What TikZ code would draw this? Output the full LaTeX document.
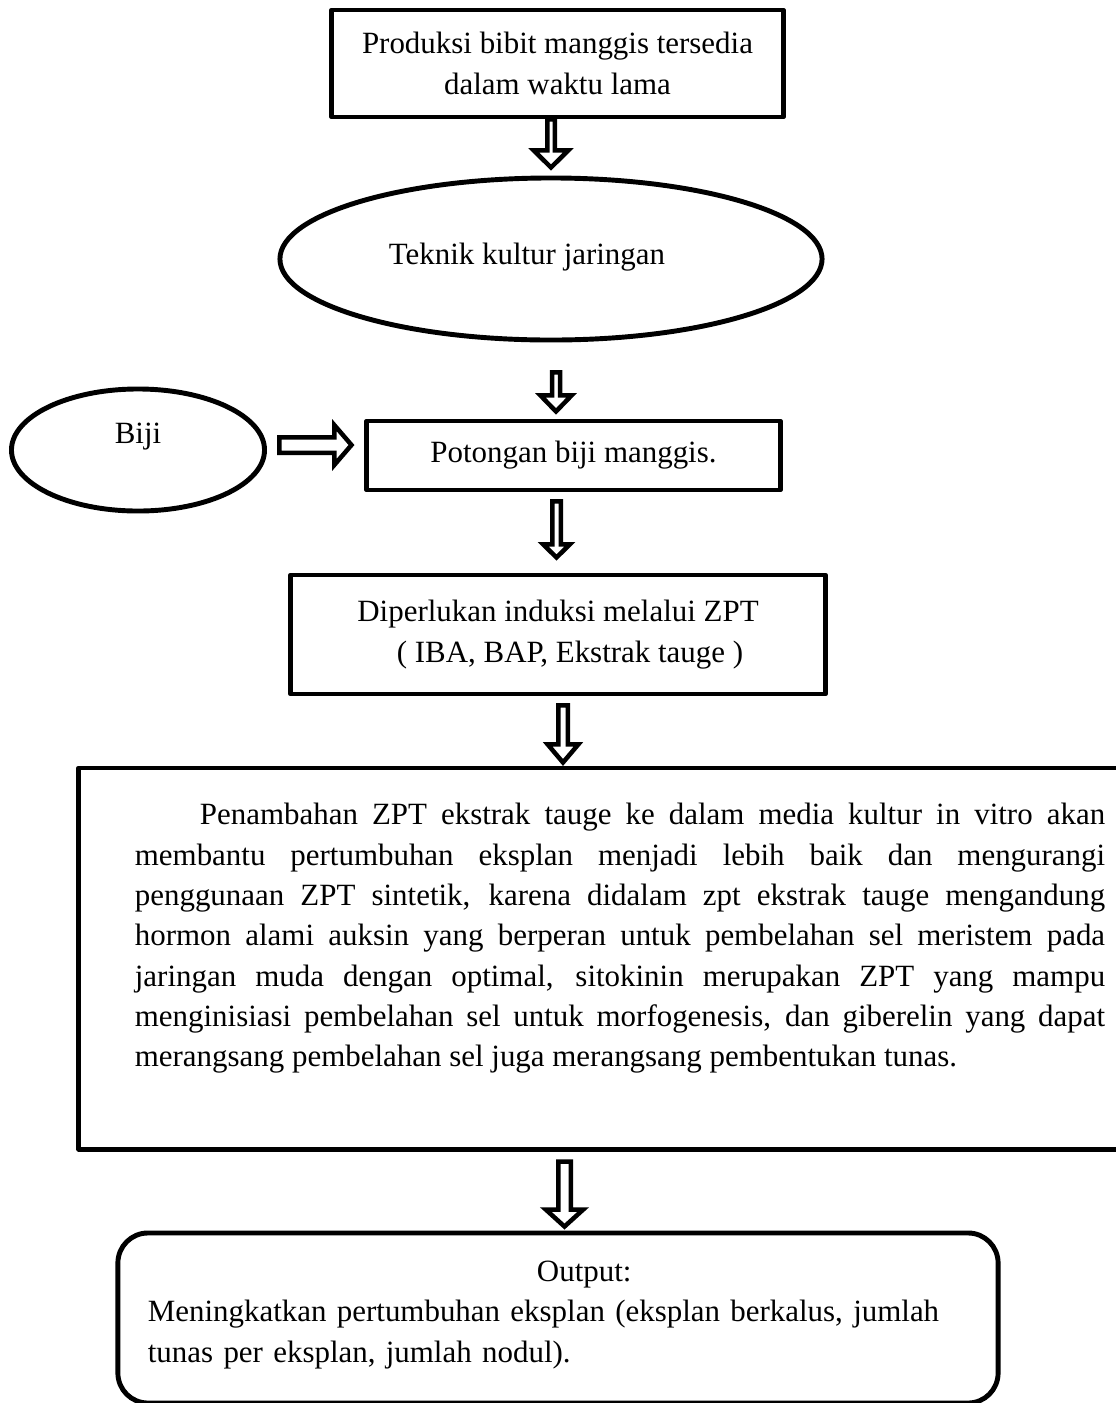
\documentclass[tikz,border=0pt]{standalone}
\usepackage{fontspec}
\setmainfont{Liberation Serif}
\usetikzlibrary{shapes.geometric,calc}
\tikzset{
  boxst/.style={draw, line width=3.5pt, line join=round, inner sep=0pt, align=center},
  ellst/.style={ellipse, draw, line width=3.5pt, inner sep=0pt},
  blkarrow/.style={draw, line width=3.2pt, line join=miter, fill=white},
}
% #1 start (centre of shaft top), #2 shaft half width, #3 head half width, #4 shaft length, #5 head length
\newcommand\downblock[5]{\draw[blkarrow] ($#1+({-#2},0)$) -- ++(0,#4) -- ++({#2-#3},0) -- ++(#3,#5) -- ++(#3,{-#5}) -- ++({#2-#3},0) -- ++(0,{-#4}) -- cycle;}
\begin{document}
\begin{tikzpicture}[x=0.025cm, y=-0.025cm, font=\fontsize{22}{28.7}\selectfont]
\useasboundingbox (0,0) rectangle (1116,1403);

\node[boxst, minimum width=11.275cm, minimum height=2.675cm] (b1) at (557.5,63.5)
  {Produksi bibit manggis tersedia\\dalam waktu lama};

\node[ellst, minimum width=13.55cm, minimum height=4.05cm,
  label={[xshift=-0.6cm,yshift=0.05cm]center:Teknik kultur jaringan}] (e1) at (551,259) {};

\node[ellst, minimum width=6.325cm, minimum height=3.05cm,
  label={[yshift=0.325cm]center:Biji}] (biji) at (138,450) {};

\node[boxst, minimum width=10.325cm, minimum height=1.725cm] (b2) at (573.5,455.5)
  {Potongan biji manggis.};

\node[boxst, minimum width=13.35cm, minimum height=2.975cm] (b3) at (558,634.5)
  {Diperlukan induksi melalui ZPT\\\hspace*{0.6cm}( IBA, BAP, Ekstrak tauge )};

\node[boxst, minimum width=26.125cm, minimum height=9.525cm,
  label={[text width=24.25cm, align=justify, xshift=0.4625cm, yshift=0.5cm]center:\hspace*{1.625cm}Penambahan ZPT ekstrak tauge ke dalam media kultur in vitro akan\linebreak membantu pertumbuhan eksplan menjadi lebih baik dan mengurangi\linebreak penggunaan ZPT sintetik, karena didalam zpt ekstrak tauge mengandung\linebreak hormon alami auksin yang berperan untuk pembelahan sel meristem pada\linebreak jaringan muda dengan optimal, sitokinin merupakan ZPT yang mampu\linebreak menginisiasi pembelahan sel untuk morfogenesis, dan giberelin yang dapat\linebreak merangsang pembelahan sel juga merangsang pembentukan tunas.}] (b4) at (601.5,958.5) {};

\node[boxst, rounded corners=0.75cm, minimum width=22cm, minimum height=4.25cm,
  label={[text width=21cm, align=left, xshift=0.25cm, yshift=0.075cm]center:\hspace*{9.725cm}Output:\\Meningkatkan pertumbuhan eksplan (eksplan berkalus, jumlah\\tunas per eksplan, jumlah nodul).}] (b5) at (558,1318) {};

% block arrows
\downblock{(b1.south)+(-6.5,0)}{3.75}{17.25}{31}{17}
\downblock{(e1.south)+(5,30)}{4}{15.5}{23}{16}
\downblock{(b2.south)+(-17,9)}{4.25}{13.25}{43}{13}
\downblock{(b3.south)+(5,9)}{4.75}{15.25}{39}{18}
\downblock{(b4.south)+(-37,10)}{6.25}{18.75}{48}{17}
\draw[blkarrow] ($(biji.east)+(12.5,-12.75)$) -- ++(55,0) -- ++(0,-12) -- ++(17,19.75) -- ++(-17,19.75) -- ++(0,-12) -- ++(-55,0) -- cycle;
\end{tikzpicture}
\end{document}
